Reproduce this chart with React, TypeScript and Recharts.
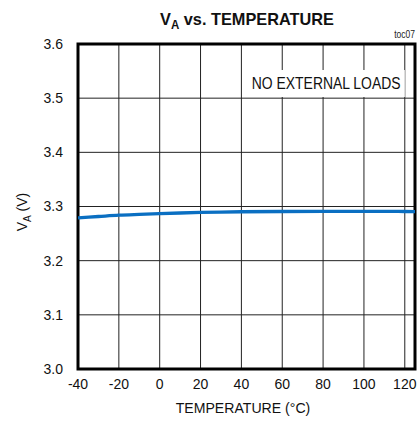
import React from "react";
import {
  LineChart,
  Line,
  XAxis,
  YAxis,
  CartesianGrid,
  ReferenceArea,
} from "recharts";

const temperatures = [-40, -30, -20, -10, 0, 10, 20, 30, 40, 60, 80, 100, 120, 125];
const vaValues = [3.279, 3.2815, 3.284, 3.2855, 3.2868, 3.288, 3.289, 3.2898, 3.2903, 3.2908, 3.291, 3.291, 3.2908, 3.2905];
const xTicks = [-40, -20, 0, 20, 40, 60, 80, 100, 120];
const yTicks = [3.0, 3.1, 3.2, 3.3, 3.4, 3.5, 3.6];

const data = temperatures.map((t, i) => ({ t, va: vaValues[i] }));

const FONT = "'Liberation Sans', Arial, Helvetica, sans-serif";

const BoxLabel = (props: any) => {
  const vb = props.viewBox || {};
  const cx = vb.x + vb.width / 2;
  const cy = vb.y + vb.height / 2;
  return (
    <text
      x={0}
      y={0}
      fontSize={16}
      fill="#111"
      textAnchor="middle"
      fontFamily={FONT}
      transform={`translate(${cx}, ${cy + 5}) scale(0.87, 1)`}
    >
      NO EXTERNAL LOADS
    </text>
  );
};

export default function App() {
  return (
    <div style={{ position: "absolute", left: 0, top: 0, width: 418, height: 427, background: "#fff", fontFamily: FONT }}>
      <LineChart
        width={418}
        height={427}
        data={data}
        margin={{ top: 44, right: 3, left: 0, bottom: 0 }}
      >
        <CartesianGrid horizontal={true} vertical={true} stroke="#222" strokeWidth={1} />
        <XAxis
          dataKey="t"
          type="number"
          domain={[-40, 125]}
          ticks={xTicks}
          interval={0}
          height={58}
          tickSize={0}
          tickMargin={10}
          axisLine={false}
          tickLine={false}
          tick={{ fontSize: 14, fill: "#111", fontFamily: FONT }}
          allowDataOverflow
        />
        <YAxis
          type="number"
          domain={[3.0, 3.6]}
          ticks={yTicks}
          interval={0}
          width={78}
          tickSize={0}
          tickMargin={15}
          axisLine={false}
          tickLine={false}
          tickFormatter={(v: number) => v.toFixed(1)}
          tick={{ fontSize: 14, fill: "#111", fontFamily: FONT }}
          allowDataOverflow
        />
        <ReferenceArea
          x1={43}
          x2={120}
          y1={3.502}
          y2={3.552}
          fill="#fff"
          fillOpacity={1}
          stroke="none"
          label={<BoxLabel />}
        />
        <Line
          type="monotone"
          dataKey="va"
          stroke="#0a6fc2"
          strokeWidth={3.3}
          dot={false}
          activeDot={false}
          isAnimationActive={false}
        />
        <ReferenceArea
          x1={-40}
          x2={125}
          y1={3.0}
          y2={3.6}
          fill="none"
          stroke="#000"
          strokeWidth={3}
        />
      </LineChart>
      <svg
        width={418}
        height={427}
        style={{ position: "absolute", left: 0, top: 0, pointerEvents: "none" }}
      >
        <text
          x={0}
          y={0}
          fontSize={17}
          fontWeight="bold"
          fill="#111"
          fontFamily={FONT}
          transform="translate(160, 25) scale(0.96, 1)"
        >
          <tspan>V</tspan>
          <tspan fontSize={12} dy={4}>A</tspan>
          <tspan dy={-4}> vs. TEMPERATURE</tspan>
        </text>
        <text x={0} y={0} fontSize={10} fill="#222" textAnchor="end" fontFamily={FONT} transform="translate(415, 38) scale(0.85, 1)">
          toc07
        </text>
        <text
          x={27}
          y={212}
          fontSize={14}
          fill="#111"
          textAnchor="middle"
          fontFamily={FONT}
          transform="rotate(-90, 27, 212)"
        >
          <tspan>V</tspan>
          <tspan fontSize={10} dy={4}>A</tspan>
          <tspan dy={-4}> (V)</tspan>
        </text>
        <text
          x={0}
          y={0}
          fontSize={15}
          fill="#111"
          textAnchor="middle"
          fontFamily={FONT}
          transform="translate(243, 413) scale(0.94, 1)"
        >
          TEMPERATURE (°C)
        </text>
      </svg>
    </div>
  );
}
